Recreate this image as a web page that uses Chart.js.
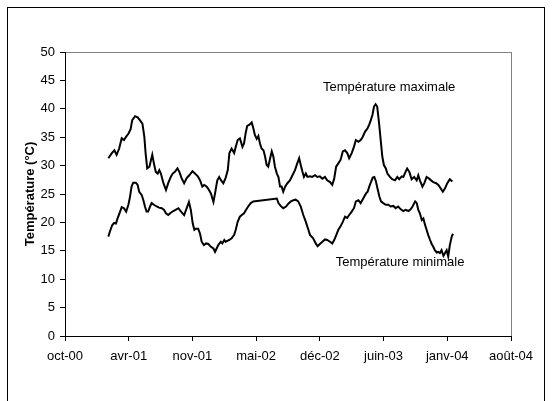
<!DOCTYPE html>
<html>
<head>
<meta charset="utf-8">
<script src="https://cdn.jsdelivr.net/npm/chart.js@4/dist/chart.umd.min.js"></script>
<style>
  html, body { margin: 0; padding: 0; background: #fff; }
  #wrap { position: relative; width: 554px; height: 401px; overflow: hidden; }
  #frame { position: absolute; left: 7px; top: 7px; width: 538px; height: 420px; border: 1px solid #000; box-sizing: border-box; }
  #chart { position: absolute; left: 0; top: 0; }
</style>
</head>
<body>
<div id="wrap">
  <div id="frame"></div>
  <canvas id="chart" width="554" height="401"></canvas>
</div>
<script>
// Excel date serials (days) for the x axis
const tickDays = [36800, 37000, 37200, 37400, 37600, 37800, 38000, 38200];
const tickLabels = ["oct-00", "avr-01", "nov-01", "mai-02", "déc-02", "juin-03", "janv-04", "août-04"];

const maxDays = [36936, 36947, 36955, 36962, 36970, 36978, 36985, 36992, 36999, 37006, 37011, 37020, 37028, 37035, 37043, 37049, 37053, 37058, 37065, 37070, 37074, 37079, 37085, 37091, 37096, 37101, 37109, 37117, 37124, 37132, 37138, 37145, 37153, 37159, 37166, 37174, 37182, 37190, 37200, 37208, 37217, 37224, 37231, 37237, 37245, 37252, 37258, 37266, 37271, 37278, 37284, 37290, 37297, 37304, 37311, 37316, 37323, 37331, 37336, 37342, 37349, 37357, 37362, 37367, 37372, 37379, 37386, 37391, 37396, 37402, 37407, 37412, 37417, 37423, 37428, 37433, 37438, 37444, 37449, 37454, 37459, 37465, 37470, 37475, 37480, 37485, 37491, 37498, 37506, 37514, 37522, 37529, 37535, 37540, 37545, 37550, 37556, 37561, 37569, 37576, 37585, 37592, 37600, 37608, 37616, 37623, 37632, 37639, 37645, 37651, 37658, 37665, 37672, 37679, 37686, 37692, 37700, 37707, 37713, 37721, 37728, 37734, 37742, 37749, 37755, 37760, 37765, 37770, 37775, 37780, 37786, 37791, 37796, 37801, 37807, 37812, 37820, 37827, 37836, 37843, 37849, 37857, 37862, 37869, 37874, 37881, 37888, 37896, 37904, 37909, 37914, 37922, 37928, 37935, 37943, 37949, 37956, 37965, 37972, 37979, 37986, 37993, 38000, 38008, 38016];
const maxTemps = [31.3, 32.2, 32.7, 31.9, 33.0, 34.8, 34.5, 35.1, 35.6, 36.4, 38.0, 38.7, 38.5, 38.0, 37.4, 35.1, 32.2, 29.5, 29.8, 31.0, 31.9, 30.4, 28.9, 28.6, 29.2, 28.6, 26.9, 25.7, 26.9, 28.0, 28.6, 28.9, 29.5, 28.9, 27.8, 26.9, 27.8, 28.3, 29.0, 28.6, 28.1, 27.4, 26.3, 26.6, 26.3, 25.7, 25.1, 23.6, 25.1, 27.4, 28.0, 27.4, 26.9, 27.8, 29.2, 32.2, 33.0, 32.2, 33.3, 34.5, 34.8, 33.3, 33.9, 35.7, 37.0, 37.2, 37.6, 36.6, 35.4, 34.7, 35.2, 33.9, 33.0, 32.7, 31.6, 30.1, 29.8, 31.3, 32.5, 31.6, 29.8, 28.6, 28.0, 26.3, 26.3, 25.4, 26.3, 26.9, 27.4, 28.3, 29.2, 30.4, 31.3, 30.1, 29.0, 28.0, 28.6, 28.0, 28.1, 28.0, 28.3, 28.0, 28.1, 27.7, 28.0, 27.4, 27.1, 26.6, 27.7, 29.8, 30.4, 31.0, 32.5, 32.7, 32.2, 31.3, 32.2, 33.3, 34.5, 34.2, 34.5, 35.0, 36.0, 36.5, 37.2, 38.0, 38.9, 40.4, 40.8, 40.4, 37.4, 34.5, 31.6, 30.1, 29.5, 28.6, 28.0, 27.6, 27.4, 28.0, 27.6, 28.1, 28.0, 28.9, 29.5, 28.9, 27.6, 28.0, 27.4, 28.3, 27.4, 26.3, 26.9, 28.0, 27.7, 27.4, 27.1, 26.9, 26.6, 26.0, 25.4, 26.0, 26.9, 27.6, 27.2];

const minDays = [36936, 36941, 36948, 36954, 36960, 36965, 36973, 36978, 36985, 36992, 36999, 37004, 37009, 37014, 37022, 37028, 37033, 37041, 37046, 37051, 37056, 37061, 37067, 37072, 37079, 37088, 37095, 37104, 37111, 37117, 37124, 37132, 37140, 37147, 37156, 37163, 37169, 37174, 37182, 37189, 37195, 37201, 37206, 37211, 37218, 37224, 37229, 37236, 37243, 37250, 37258, 37266, 37271, 37276, 37281, 37289, 37294, 37300, 37304, 37316, 37323, 37331, 37336, 37342, 37349, 37355, 37362, 37368, 37375, 37383, 37391, 37465, 37470, 37477, 37485, 37494, 37501, 37509, 37517, 37524, 37532, 37540, 37548, 37556, 37564, 37569, 37579, 37587, 37593, 37600, 37608, 37616, 37623, 37632, 37639, 37645, 37653, 37658, 37665, 37672, 37679, 37686, 37692, 37700, 37707, 37713, 37721, 37728, 37734, 37739, 37745, 37750, 37755, 37761, 37766, 37771, 37776, 37782, 37787, 37792, 37799, 37807, 37815, 37822, 37831, 37838, 37846, 37854, 37862, 37869, 37878, 37885, 37891, 37899, 37904, 37909, 37914, 37920, 37925, 37930, 37935, 37940, 37946, 37951, 37956, 37961, 37967, 37972, 37977, 37982, 37988, 37993, 37998, 38003, 38008, 38014, 38018];
const minTemps = [17.5, 18.4, 19.5, 19.9, 19.8, 20.7, 21.9, 22.7, 22.5, 21.9, 23.1, 24.5, 26.3, 27.0, 27.0, 26.6, 25.4, 24.8, 23.9, 22.8, 21.9, 21.9, 22.8, 23.4, 23.1, 22.8, 22.6, 22.5, 22.2, 21.6, 21.3, 21.7, 22.0, 22.2, 22.5, 22.0, 21.6, 21.3, 22.5, 23.6, 22.2, 19.8, 18.7, 18.9, 18.9, 18.0, 16.6, 16.0, 16.3, 16.2, 15.7, 15.4, 14.8, 15.4, 16.0, 16.6, 16.3, 16.9, 16.6, 16.9, 17.2, 17.8, 18.7, 20.1, 21.0, 21.3, 21.6, 22.2, 22.8, 23.4, 23.7, 24.2, 23.4, 22.9, 22.5, 22.8, 23.3, 23.7, 23.9, 24.0, 23.7, 22.8, 21.3, 20.1, 18.7, 17.8, 17.2, 16.3, 15.8, 16.2, 16.6, 17.0, 16.9, 16.6, 16.3, 16.9, 18.0, 18.7, 19.3, 20.1, 21.0, 20.8, 21.3, 21.9, 22.5, 23.7, 23.9, 23.4, 24.0, 24.5, 25.1, 25.4, 26.3, 27.2, 27.9, 28.0, 27.2, 25.7, 24.5, 23.7, 23.4, 23.1, 23.1, 22.8, 22.9, 22.5, 22.8, 22.3, 22.0, 22.2, 22.0, 22.3, 22.8, 23.7, 23.4, 22.2, 21.6, 20.4, 20.7, 19.6, 18.7, 17.8, 16.9, 16.2, 15.7, 15.1, 14.7, 14.8, 14.6, 15.1, 14.1, 14.6, 15.1, 14.0, 16.0, 17.5, 18.0];

const seriesNames = ["Température maximale", "Température minimale"];

function toPoints(days, temps) {
  return days.map((d, i) => ({ x: d, y: temps[i] }));
}

// curve captions, anchored in data units
const captions = {
  id: "captions",
  afterDatasetsDraw(chart) {
    const { ctx, scales } = chart;
    ctx.save();
    ctx.font = "13px 'Liberation Sans', Arial, sans-serif";
    ctx.fillStyle = "#000";
    ctx.textBaseline = "middle";
    ctx.textAlign = "left";
    ctx.fillText(seriesNames[0], scales.x.getPixelForValue(37610), scales.y.getPixelForValue(43.7));
    ctx.fillText(seriesNames[1], scales.x.getPixelForValue(37650), scales.y.getPixelForValue(12.9));
    ctx.restore();
  },
};

const lineStyle = {
  showLine: true,
  borderColor: "#000",
  borderWidth: 2,
  pointRadius: 0,
  tension: 0,
};

new Chart(document.getElementById("chart"), {
  type: "scatter",
  data: {
    datasets: [
      { label: seriesNames[0], data: toPoints(maxDays, maxTemps), ...lineStyle },
      { label: seriesNames[1], data: toPoints(minDays, minTemps), ...lineStyle },
    ],
  },
  options: {
    responsive: false,
    animation: false,
    devicePixelRatio: 1,
    layout: { padding: { top: 52, right: 43, left: 0, bottom: 0 } },
    plugins: { legend: { display: false }, tooltip: { enabled: false } },
    scales: {
      x: {
        type: "linear",
        min: tickDays[0],
        max: tickDays[tickDays.length - 1],
        afterBuildTicks: (scale) => {
          scale.ticks = tickDays.map((v) => ({ value: v }));
        },
        afterFit: (scale) => { scale.height = 65; },
        ticks: {
          callback: (v) => tickLabels[tickDays.indexOf(v)],
          color: "#000",
          font: { family: "'Liberation Sans', Arial, sans-serif", size: 13 },
          padding: 8,
          maxRotation: 0,
          autoSkip: false,
        },
        grid: {
          color: (c) => (c.tick && c.tick.value === 38200 ? "#808080" : "rgba(0,0,0,0)"),
          tickColor: "#000",
          tickLength: 5,
        },
        border: { color: "#000", width: 1 },
      },
      y: {
        min: 0,
        max: 50,
        afterFit: (scale) => { scale.width = 65; },
        ticks: {
          stepSize: 5,
          color: "#000",
          font: { family: "'Liberation Sans', Arial, sans-serif", size: 13 },
          padding: 5,
        },
        grid: {
          color: (c) => (c.tick && c.tick.value === 50 ? "#808080" : "rgba(0,0,0,0)"),
          tickColor: "#000",
          tickLength: 5,
        },
        border: { color: "#000", width: 1 },
        title: {
          display: true,
          text: "Température (°C)",
          color: "#000",
          font: { family: "'Liberation Sans', Arial, sans-serif", size: 13, weight: "bold" },
          padding: { top: 23, bottom: 0 },
        },
      },
    },
  },
  plugins: [captions],
});
</script>
</body>
</html>
